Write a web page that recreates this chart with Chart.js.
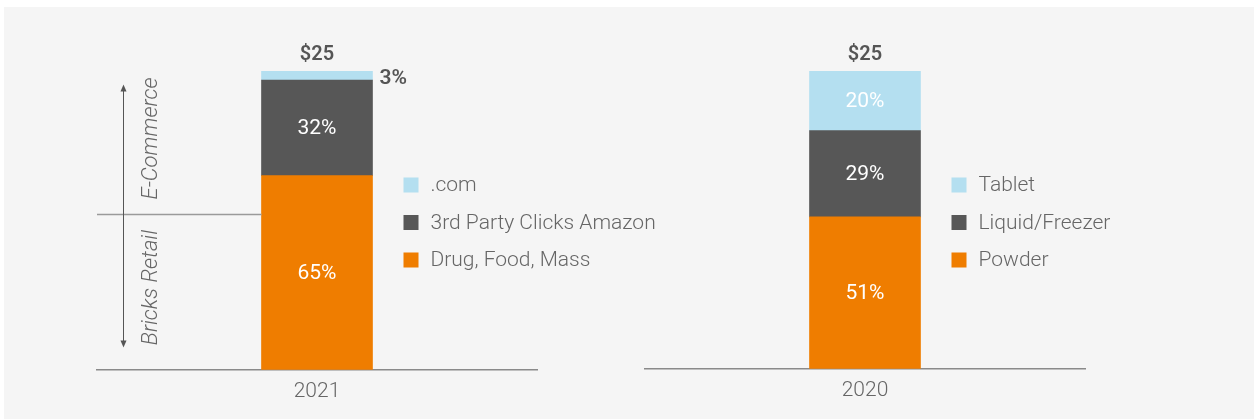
<!DOCTYPE html>
<html>
<head>
<meta charset="utf-8">
<script src="https://cdn.jsdelivr.net/npm/chart.js@4"></script>
<style>
  html, body { margin: 0; padding: 0; background: #fff; }
  #bg { position: absolute; left: 4px; top: 7px; width: 1250px; height: 412px; background: #f5f5f5; }
  canvas { position: absolute; top: 0; }
  #left { left: 0; }
  #right { left: 627px; }
</style>
</head>
<body>
<div id="bg"></div>
<canvas id="left" width="700" height="419"></canvas>
<canvas id="right" width="627" height="419"></canvas>
<script>
// data
const years = ['2021', '2020'];
const totals = ['$25', '$25'];
const segments2021 = ['Drug, Food, Mass', '3rd Party Clicks Amazon', '.com'];
const shares2021 = [65, 32, 3];
const segments2020 = ['Powder', 'Liquid/Freezer', 'Tablet'];
const shares2020 = [51, 29, 20];
const segColors = ['#ef7d00', '#575757', '#b4dff0'];
const bracketLabels = ['E-Commerce', 'Bricks Retail'];

const FONT = "Roboto, 'Liberation Sans', Arial, sans-serif";
Chart.defaults.font.family = FONT;

// labels, totals, legend and the channel bracket
const decorPlugin = {
  id: 'decor',
  afterDatasetsDraw(chart, args, opts) {
    const ctx = chart.ctx;
    const ys = chart.scales.y;
    const ca = chart.chartArea;
    const n = chart.data.datasets.length;
    ctx.save();
    ctx.textBaseline = 'middle';

    // value labels
    let lastBar;
    chart.data.datasets.forEach((ds, i) => {
      const bar = chart.getDatasetMeta(i).data[0];
      const v = ds.data[0];
      const cy = (bar.y + bar.base) / 2;
      if (v >= 10) {
        ctx.fillStyle = '#ffffff';
        ctx.textAlign = 'center';
        ctx.font = '400 21px ' + FONT;
        ctx.fillText(v + '%', bar.x, cy + 1);
      } else {
        ctx.fillStyle = '#555555';
        ctx.textAlign = 'left';
        ctx.font = '600 21px ' + FONT;
        ctx.fillText(v + '%', bar.x + bar.width / 2 + 7, cy + 3);
      }
      lastBar = bar;
    });

    // total above the stack
    ctx.fillStyle = '#555555';
    ctx.textAlign = 'center';
    ctx.font = '600 20px ' + FONT;
    ctx.fillText(opts.total, lastBar.x, lastBar.y - 16);

    // legend, top segment first
    const lx = lastBar.x + lastBar.width / 2 + 31;
    ctx.font = '300 21px ' + FONT;
    ctx.textAlign = 'left';
    for (let k = 0; k < n; k++) {
      const i = n - 1 - k;
      const ry = ca.top + 114 + k * 37.5;
      ctx.fillStyle = chart.data.datasets[i].backgroundColor;
      ctx.fillRect(lx, ry - 7.5, 15, 15);
      ctx.fillStyle = '#666666';
      ctx.fillText(chart.data.datasets[i].label, lx + 27, ry + 1);
    }

    if (opts.bracket) {
      const ax = ca.left + 26.5;
      const top = ys.getPixelForValue(95.5);
      const split = ys.getPixelForValue(52);
      const bottom = ys.getPixelForValue(7.5);
      const barLeft = lastBar.x - lastBar.width / 2;

      ctx.strokeStyle = '#9a9a9a';
      ctx.lineWidth = 1.5;
      ctx.beginPath();
      ctx.moveTo(ca.left, split);
      ctx.lineTo(barLeft, split);
      ctx.stroke();

      ctx.strokeStyle = '#555555';
      ctx.fillStyle = '#555555';
      ctx.lineWidth = 1;
      ctx.beginPath();
      ctx.moveTo(ax, top + 4);
      ctx.lineTo(ax, bottom - 4);
      ctx.stroke();
      ctx.beginPath();
      ctx.moveTo(ax, top);
      ctx.lineTo(ax - 3, top + 7);
      ctx.lineTo(ax + 3, top + 7);
      ctx.closePath();
      ctx.fill();
      ctx.beginPath();
      ctx.moveTo(ax, bottom);
      ctx.lineTo(ax - 3, bottom - 7);
      ctx.lineTo(ax + 3, bottom - 7);
      ctx.closePath();
      ctx.fill();

      ctx.fillStyle = '#666666';
      ctx.font = 'italic 300 22px ' + FONT;
      ctx.textAlign = 'center';
      const tx = ca.left + 54;
      [[bracketLabels[0], 77.4], [bracketLabels[1], 27.5]].forEach(([t, v]) => {
        ctx.save();
        ctx.translate(tx, ys.getPixelForValue(v));
        ctx.rotate(-Math.PI / 2);
        ctx.fillText(t, 0, 0);
        ctx.restore();
      });
    }
    ctx.restore();
  }
};

function makePanel(id, year, total, names, shares, padding, bracket) {
  return new Chart(document.getElementById(id), {
    type: 'bar',
    data: {
      labels: [year],
      datasets: names.map((name, i) => ({
        label: name,
        data: [shares[i]],
        backgroundColor: segColors[i],
        borderWidth: 0,
        barThickness: 111
      }))
    },
    options: {
      responsive: false,
      animation: false,
      layout: { padding: padding },
      plugins: {
        legend: { display: false },
        tooltip: { enabled: false },
        decor: { total: total, bracket: bracket }
      },
      scales: {
        x: {
          stacked: true,
          grid: { display: false, drawTicks: false },
          border: { display: true, color: '#8a8a8a', width: 1.5 },
          ticks: { color: '#666666', padding: 9, font: { size: 21, weight: '300' } }
        },
        y: {
          stacked: true,
          display: false,
          min: 0,
          max: 100
        }
      }
    },
    plugins: [decorPlugin]
  });
}

makePanel('left', years[0], totals[0], segments2021, shares2021,
  { left: 97, right: 163, top: 71, bottom: 6 }, true);
makePanel('right', years[1], totals[1], segments2020, shares2020,
  { left: 18, right: 169, top: 71, bottom: 7 }, false);
</script>
</body>
</html>
